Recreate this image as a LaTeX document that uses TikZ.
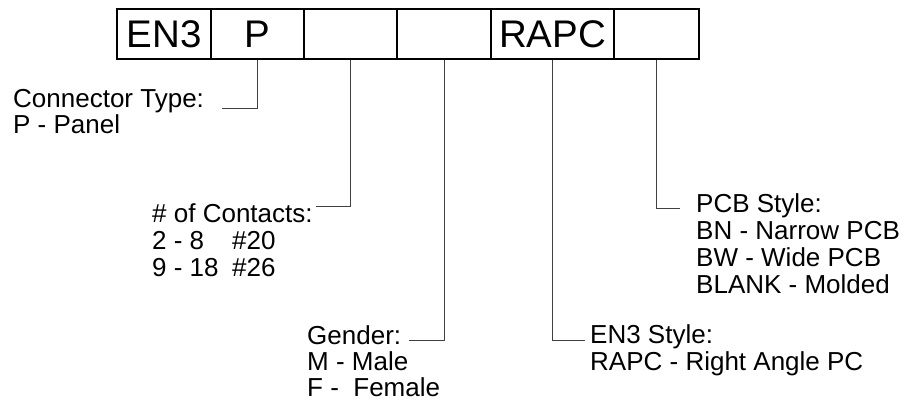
\documentclass[tikz,border=0pt]{standalone}
\usepackage{fontspec}
\setmainfont{Liberation Sans}
\begin{document}
\begin{tikzpicture}[x=1pt,y=-1pt,
  cell/.style={draw=black, line width=1.1pt, minimum height=50pt, inner sep=0pt,
    font=\fontsize{38.5}{40}\selectfont},
  lbl/.style={anchor=base west, inner sep=0pt, font=\fontsize{26}{27}\selectfont},
  lead/.style={draw=black!75, line width=0.9pt}]
\useasboundingbox (0,0) rectangle (909,402);
% code boxes
\node[cell, minimum width=94pt]  (c1) at (164,34)   {EN3};
\node[cell, minimum width=93pt]  (c2) at (257.5,34) {P};
\node[cell, minimum width=93pt]  (c3) at (350.5,34) {};
\node[cell, minimum width=94pt]  (c4) at (444,34)   {};
\node[cell, minimum width=123pt] (c5) at (552.5,34) {RAPC};
\node[cell, minimum width=85pt]  (c6) at (656.5,34) {};
% labels
\node[lbl] (ct1) at (13,107) {Connector Type:};
\node[lbl] (ct2) at (13,133) {P - Panel};
\node[lbl] (nc1) at (152,222) {\# of Contacts:};
\node[lbl] (nc2) at (152,249) {\makebox[80pt][l]{2 - 8}\#20};
\node[lbl] (nc3) at (152,276) {\makebox[80pt][l]{9 - 18}\#26};
\node[lbl] (g1) at (307,344) {Gender:};
\node[lbl] (g2) at (307,370) {M - Male};
\node[lbl] (g3) at (307,396) {F -\ \ Female};
\node[lbl] (e1) at (590,343) {EN3 Style:};
\node[lbl] (e2) at (590,370) {RAPC - Right Angle PC};
\node[lbl] (p1) at (696,212) {PCB Style:};
\node[lbl] (p2) at (696,239) {BN - Narrow PCB};
\node[lbl] (p3) at (696,266) {BW - Wide PCB};
\node[lbl] (p4) at (696,293) {BLANK - Molded};
% leader ends
\coordinate (ctend) at (222,108);
\coordinate (ncend) at (316,206);
\coordinate (gend) at (409,340);
\coordinate (eend) at (585,340);
\coordinate (pend) at (680,208);
\draw[lead] (c2.south) |- (ctend);
\draw[lead] (c3.south) |- (ncend);
\draw[lead] (c4.south) |- (gend);
\draw[lead] (c5.south) |- (eend);
\draw[lead] (c6.south) |- (pend);
\end{tikzpicture}
\end{document}
